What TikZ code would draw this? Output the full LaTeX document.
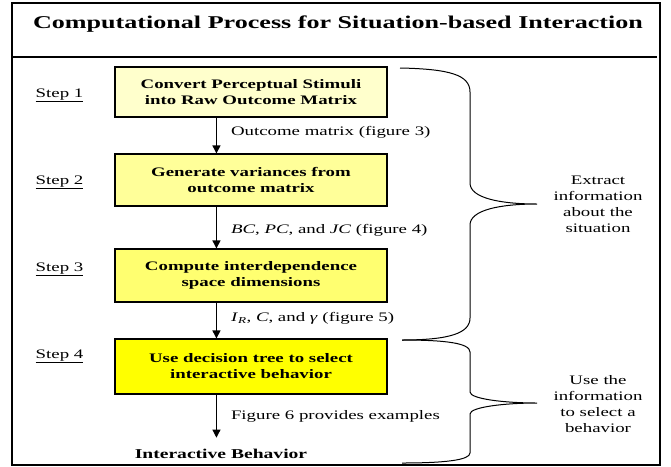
\documentclass[tikz,border=0pt]{standalone}
\usepackage{fontspec}
\setmainfont{Liberation Serif}[FakeStretch=1.45]
\usetikzlibrary{arrows.meta}
\definecolor{paleyellow}{HTML}{FFFFCC}
\definecolor{lightyellow}{HTML}{FFFF99}
\definecolor{midyellow}{HTML}{FFFF70}
\definecolor{fullyellow}{HTML}{FFFF00}
\tikzset{
  stepbox/.style={draw=black, line width=1.1pt, minimum width=272pt,
    align=center, inner sep=0pt, font=\bfseries\fontsize{13}{16}\selectfont},
  flow/.style={-{Triangle[width=8pt,length=8pt]}, line width=1.1pt},
  flowlabel/.style={anchor=base west, inner sep=0pt, xshift=14pt,
    font=\fontsize{13}{16}\selectfont},
  steplabel/.style={anchor=base, inner sep=0pt, font=\fontsize{13}{16}\selectfont},
  bracetext/.style={align=center, inner sep=0pt, font=\fontsize{13}{16}\selectfont},
  bracepath/.style={line width=1pt},
}
\begin{document}
\begin{tikzpicture}[x=1pt,y=-1pt]
  \useasboundingbox (0,0) rectangle (671,466);

  % frame and title bar
  \draw[line width=1.3pt] (12,3) rectangle (660,465);
  \draw[line width=2pt] (12,57) -- (657,57);
  \node[anchor=base, inner sep=0pt, font=\bfseries\fontsize{18}{22}\selectfont]
    (title) at (338,28) {Computational Process for Situation-based Interaction};

  % the four processing steps
  \node[stepbox, fill=paleyellow,  minimum height=50pt] (b1) at (251,92)
    {Convert Perceptual Stimuli\\into Raw Outcome Matrix};
  \node[stepbox, fill=lightyellow, minimum height=52pt] (b2) at (251,180)
    {Generate variances from\\outcome matrix};
  \node[stepbox, fill=midyellow,   minimum height=53pt] (b3) at (251,275.5)
    {Compute interdependence\\space dimensions};
  \node[stepbox, fill=fullyellow,  minimum height=55pt] (b4) at (251,366.5)
    {Use decision tree to select\\interactive behavior};
  \node[anchor=base, inner sep=0pt, outer ysep=11pt,
    font=\bfseries\fontsize{13.5}{16}\selectfont] (beh) at (221,458)
    {Interactive Behavior};

  % step labels
  \node[steplabel] (s1) at (59.5,97)  {\underline{Step 1}};
  \node[steplabel] (s2) at (59.5,184) {\underline{Step 2}};
  \node[steplabel] (s3) at (59.5,271) {\underline{Step 3}};
  \node[steplabel] (s4) at (59.5,358) {\underline{Step 4}};

  % connectors between the steps
  \draw[flow] ([xshift=102pt]b1.south west) -- ([xshift=102pt]b2.north west)
    node[flowlabel, pos=0.49] (l1) {Outcome matrix (figure 3)};
  \draw[flow] ([xshift=102pt]b2.south west) -- ([xshift=102pt]b3.north west)
    node[flowlabel, pos=0.65] (l2) {\textit{BC}, \textit{PC}, and \textit{JC} (figure 4)};
  \draw[flow] ([xshift=102pt]b3.south west) -- ([xshift=102pt]b4.north west)
    node[flowlabel, pos=0.54] (l3) {\textit{I}\textsubscript{\textit{R}}, \textit{C}, and \textit{γ} (figure 5)};
  \draw[flow] ([xshift=102pt]b4.south west) -- ([xshift=102pt]b4.south west |- beh.north)
    node[flowlabel, pos=0.58] (l4) {Figure 6 provides examples};

  % grouping braces
  \draw[bracepath] (400,68) .. controls (450,69) and (470,75) .. (470,92)
    -- (470,183) .. controls (470,198) and (500,204) .. (537,204)
    .. controls (500,204) and (470,210) .. (470,225)
    -- (470,318) .. controls (470,333) and (450,340) .. (402,340);
  \draw[bracepath] (402,340) .. controls (445,340) and (470,343) .. (470,352)
    -- (470,392) .. controls (470,399) and (505,403) .. (537,403)
    .. controls (505,403) and (470,407) .. (470,414)
    -- (470,453) .. controls (470,460) and (445,463) .. (402,463);

  \node[bracetext] (t1) at (598,204) {Extract\\information\\about the\\situation};
  \node[bracetext] (t2) at (598,404) {Use the\\information\\to select a\\behavior};
\end{tikzpicture}
\end{document}
